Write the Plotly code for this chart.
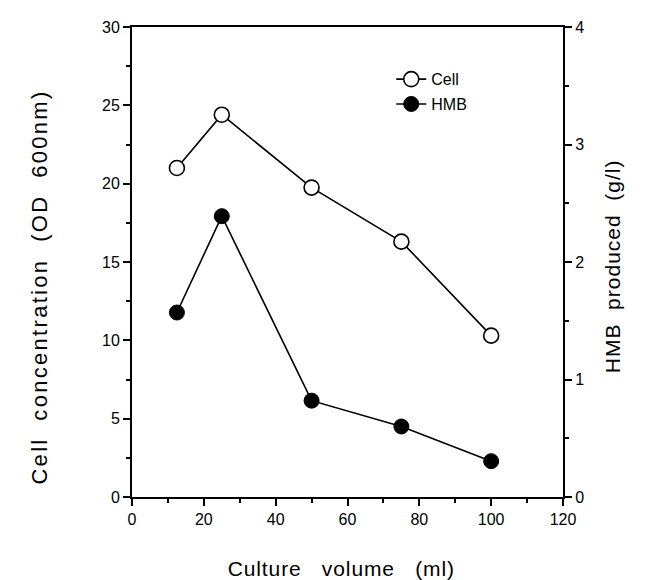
import plotly.graph_objects as go

volume = [12.5, 25, 50, 75, 100]
cell_od = [21.0, 24.4, 19.75, 16.3, 10.3]
hmb_gl = [1.57, 2.39, 0.82, 0.60, 0.305]

x_ticks = [0, 20, 40, 60, 80, 100, 120]
y_ticks = [0, 5, 10, 15, 20, 25, 30]
y2_ticks = [0, 1, 2, 3, 4]

FONT = "Liberation Sans, Arial, sans-serif"

fig = go.Figure()
fig.add_trace(go.Scatter(
    x=volume, y=cell_od, name="Cell", mode="lines+markers", legendgroup="a",
    line=dict(color="black", width=1.6),
    marker=dict(symbol="circle", size=15, color="white", line=dict(color="black", width=1.6)),
    yaxis="y"))
fig.add_trace(go.Scatter(
    x=volume, y=hmb_gl, name="HMB", mode="lines+markers", legendgroup="b",
    line=dict(color="black", width=1.6),
    marker=dict(symbol="circle", size=15, color="black", line=dict(color="black", width=1)),
    yaxis="y2"))

axis_common = dict(
    showgrid=False, zeroline=False, showline=True, linecolor="black", linewidth=2,
    ticks="outside", ticklen=7, tickwidth=2, tickcolor="black", automargin=False,
    tickfont=dict(family=FONT, size=16, color="black"),
)

G2 = "\u00a0" * 2
G3 = "\u00a0" * 3

fig.update_layout(
    width=647, height=580,
    margin=dict(l=124, r=92, t=19, b=91),
    paper_bgcolor="white", plot_bgcolor="white",
    font=dict(family=FONT, color="black"),
    showlegend=True,
    legend=dict(x=0.6015, y=0.925, xanchor="left", yanchor="top",
                bgcolor="rgba(0,0,0,0)", font=dict(family=FONT, size=16),
                tracegroupgap=1, traceorder="grouped"),
    xaxis=dict(range=[0, 120], tickvals=x_ticks, mirror=True,
               minor=dict(dtick=10, ticklen=4, tickwidth=1.5, tickcolor="black", ticks="outside"),
               **axis_common),
    yaxis=dict(range=[0, 30], tickvals=y_ticks,
               minor=dict(dtick=2.5, ticklen=4, tickwidth=1.5, tickcolor="black", ticks="outside"),
               **axis_common),
    yaxis2=dict(range=[0, 4], tickvals=y2_ticks, overlaying="y", side="right",
                minor=dict(dtick=0.5, ticklen=4, tickwidth=1.5, tickcolor="black", ticks="outside"),
                **axis_common),
    annotations=[
        dict(text=f"Culture{G3}volume{G3}(ml)", xref="paper", yref="paper", x=0.485, y=-0.152,
             xanchor="center", yanchor="middle", showarrow=False,
             font=dict(family=FONT, size=21, color="black")),
        dict(text=f"Cell{G2}concentration{G2}(OD{G2}600nm)", xref="paper", yref="paper",
             x=-0.215, y=0.448, textangle=-90, xanchor="center", yanchor="middle",
             showarrow=False, font=dict(family=FONT, size=22, color="black")),
        dict(text=f"HMB{G2}produced{G2}(g/l)", xref="paper", yref="paper",
             x=1.1137, y=0.491, textangle=-90, xanchor="center", yanchor="middle",
             showarrow=False, font=dict(family=FONT, size=21, color="black")),
    ],
)

post = """
var gd = document.getElementById('{plot_id}');
function spacing() {
  var ann = gd.querySelectorAll('.annotation-text');
  var sp = ['0.9px', '2.3px', '1px'];
  ann.forEach(function (e, i) { e.style.letterSpacing = sp[i] || '1px'; });
}
spacing();
if (gd.on) { gd.on('plotly_afterplot', spacing); }
setTimeout(spacing, 30);
"""

fig.write_html("out.html", post_script=post)
